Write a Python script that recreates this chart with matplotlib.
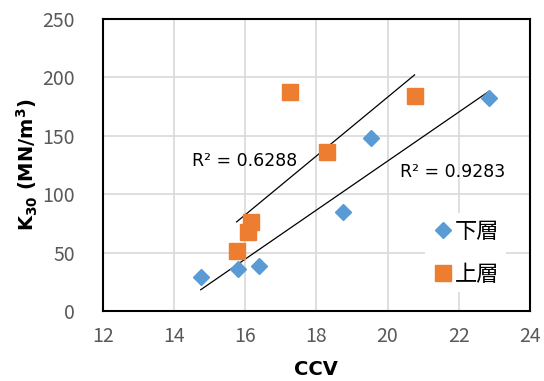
import matplotlib.pyplot as plt
import numpy as np

plt.rcParams['font.family'] = ['DejaVu Sans', 'Noto Sans CJK JP']

# データ
lower_x = [14.75, 15.79, 16.38, 18.74, 19.53, 22.84]
lower_y = [29, 36, 38.5, 85, 148, 182]
upper_x = [15.76, 16.07, 16.16, 17.25, 18.29, 20.76]
upper_y = [51, 68, 76, 187.5, 136, 184]
labels = ['下層', '上層']
r2_texts = ['R² = 0.9283', 'R² = 0.6288']

fig = plt.figure(figsize=(5.44, 3.81), dpi=100)
ax = fig.add_axes([0.189, 0.184, 0.785, 0.766])

blue = '#5b9bd5'
orange = '#ed7d31'

ax.plot(lower_x, lower_y, 'D', color=blue, markersize=7.8, label=labels[0], zorder=3)
ax.plot(upper_x, upper_y, 's', color=orange, markersize=11, label=labels[1], zorder=3)

# 近似直線（最小二乗法）
for xs, ys in [(lower_x, lower_y), (upper_x, upper_y)]:
    m, b = np.polyfit(xs, ys, 1)
    xx = np.array([min(xs), max(xs)])
    ax.plot(xx, m * xx + b, color='black', linewidth=0.9, zorder=2)

ax.text(20.35, 119, r2_texts[0], fontsize=12.5, va='center')
ax.text(14.5, 128, r2_texts[1], fontsize=12.5, va='center')

ax.set_xlim(12, 24)
ax.set_ylim(0, 250)
ax.set_xticks(range(12, 25, 2))
ax.set_yticks(range(0, 251, 50))
ax.grid(True, color='#d9d9d9', linewidth=1.2)
ax.set_axisbelow(True)
for s in ax.spines.values():
    s.set_linewidth(1.5)
    s.set_color('black')
ax.tick_params(length=0, labelsize=14, labelcolor='#595959')
ax.tick_params(axis='y', pad=20)
ax.tick_params(axis='x', pad=11)
for lab in ax.get_xticklabels() + ax.get_yticklabels():
    lab.set_family(['Noto Sans CJK JP'])

ax.set_xlabel('CCV', fontsize=14, fontweight='bold', labelpad=9)
ax.set_ylabel(r'$\mathbf{K_{30}}$ $\mathbf{(MN/m^3)}$', fontsize=14, labelpad=2)

leg = ax.legend(loc='center', bbox_to_anchor=(0.85, 0.20), frameon=True,
                fancybox=False, framealpha=1, edgecolor='none',
                prop={'family': 'Noto Sans CJK JP', 'size': 16},
                handletextpad=0.05, handlelength=1.0, labelspacing=0.9,
                borderpad=0.3)

fig.savefig('out.png', dpi=100)
